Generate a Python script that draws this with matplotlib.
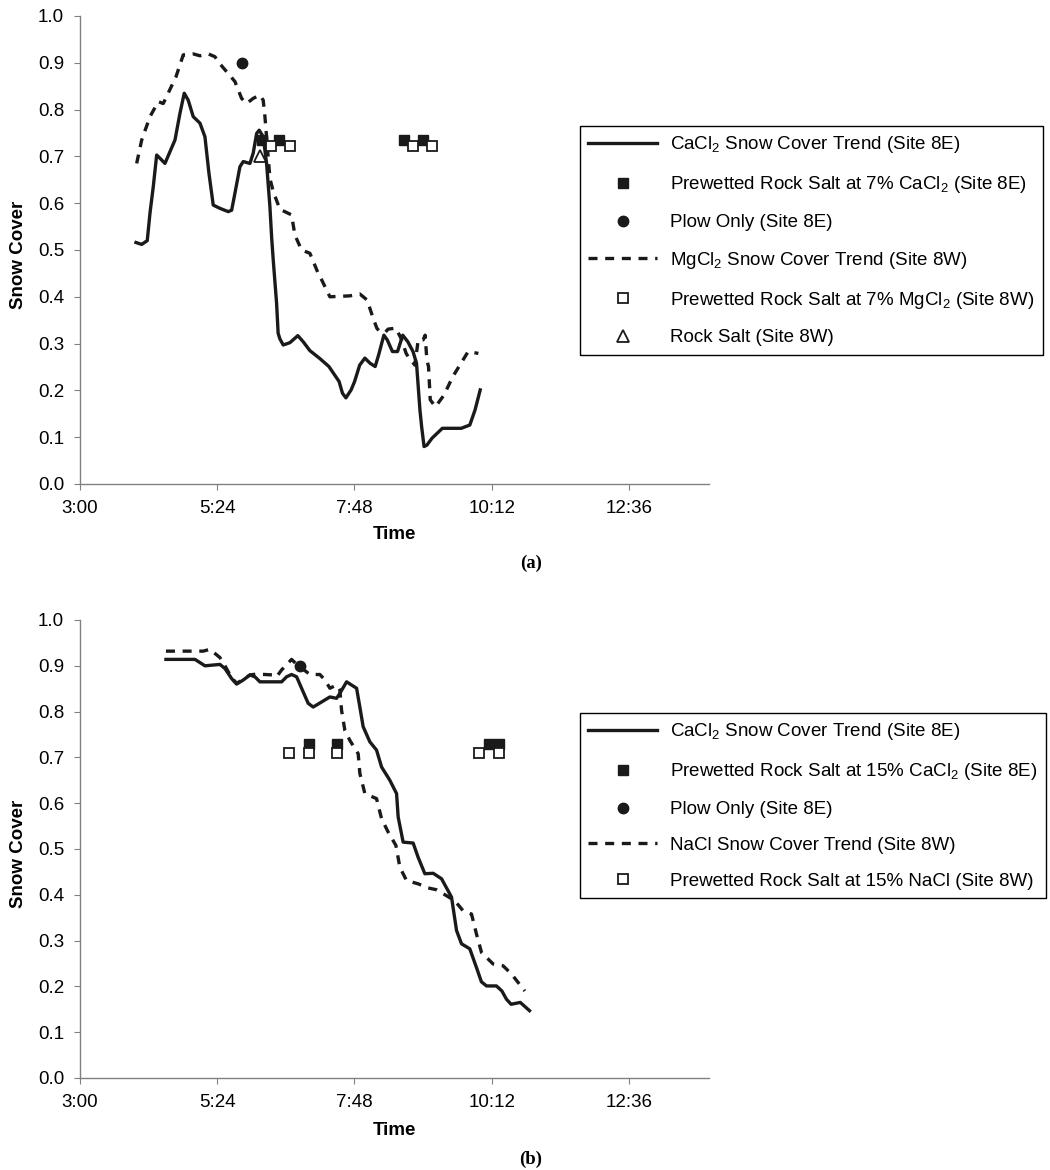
import matplotlib
matplotlib.use('Agg')
import matplotlib.pyplot as plt
from matplotlib.ticker import FuncFormatter, FixedLocator, MultipleLocator

plt.rcParams['font.family'] = ['Liberation Sans', 'DejaVu Sans']
plt.rcParams['mathtext.default'] = 'regular'

# ---------------- data (time in decimal hours) ----------------
# Panel (a)
a_cacl2_t = [3.979, 4.079, 4.176, 4.224, 4.281, 4.341, 4.398, 4.486, 4.573, 4.661, 4.748, 4.823,
             4.893, 4.980, 5.098, 5.185, 5.255, 5.330, 5.447, 5.592, 5.652, 5.709, 5.797, 5.855,
             5.972, 6.029, 6.089, 6.134, 6.204, 6.263, 6.321, 6.351, 6.379, 6.438, 6.465, 6.496,
             6.554, 6.671, 6.809, 6.903, 7.020, 7.195, 7.353, 7.531, 7.590, 7.650, 7.741, 7.802,
             7.891, 7.982, 8.073, 8.162, 8.223, 8.314, 8.373, 8.464, 8.553, 8.644, 8.733, 8.824,
             8.885, 8.945, 8.975, 9.017, 9.066, 9.157, 9.337, 9.667, 9.817, 9.908, 9.999]
a_cacl2_v = [0.516, 0.512, 0.520, 0.579, 0.635, 0.703, 0.696, 0.685, 0.710, 0.735, 0.792, 0.835,
             0.820, 0.785, 0.771, 0.742, 0.664, 0.596, 0.589, 0.582, 0.585, 0.621, 0.678, 0.689,
             0.685, 0.707, 0.749, 0.756, 0.742, 0.685, 0.593, 0.528, 0.479, 0.386, 0.322, 0.310,
             0.297, 0.302, 0.317, 0.304, 0.285, 0.268, 0.251, 0.219, 0.194, 0.184, 0.201, 0.219,
             0.254, 0.269, 0.258, 0.251, 0.276, 0.318, 0.308, 0.283, 0.283, 0.318, 0.304, 0.283,
             0.258, 0.158, 0.122, 0.080, 0.083, 0.098, 0.119, 0.119, 0.126, 0.158, 0.201]

a_mgcl2_t = [3.991, 4.079, 4.224, 4.369, 4.456, 4.526, 4.678, 4.806, 4.980, 5.098, 5.243, 5.360,
             5.417, 5.564, 5.709, 5.826, 5.914, 6.029, 6.146, 6.204, 6.234, 6.291, 6.321, 6.379,
             6.496, 6.700, 6.758, 6.875, 7.020, 7.166, 7.223, 7.370, 7.720, 7.894, 8.022, 8.127,
             8.191, 8.244, 8.344, 8.389, 8.524, 8.615, 8.704, 8.739, 8.856, 8.915, 9.001, 9.036,
             9.066, 9.095, 9.125, 9.216, 9.366, 9.517, 9.698, 9.788, 9.967]
a_mgcl2_v = [0.685, 0.735, 0.785, 0.817, 0.813, 0.831, 0.870, 0.917, 0.919, 0.915, 0.919, 0.913,
             0.902, 0.881, 0.860, 0.824, 0.813, 0.824, 0.831, 0.820, 0.785, 0.699, 0.653, 0.625,
             0.587, 0.575, 0.532, 0.500, 0.493, 0.450, 0.437, 0.400, 0.402, 0.406, 0.393, 0.354,
             0.333, 0.325, 0.325, 0.331, 0.333, 0.311, 0.279, 0.272, 0.254, 0.308, 0.308, 0.318,
             0.265, 0.251, 0.180, 0.165, 0.190, 0.229, 0.265, 0.283, 0.279]

a_prewet_cacl2_t = [6.18, 6.48, 8.67, 9.00]
a_prewet_cacl2_v = [0.735, 0.735, 0.735, 0.735]
a_plow_t = [5.83]
a_plow_v = [0.90]
a_prewet_mgcl2_t = [6.34, 6.67, 8.83, 9.15]
a_prewet_mgcl2_v = [0.722, 0.722, 0.722, 0.722]
a_rocksalt_t = [6.15]
a_rocksalt_v = [0.70]

# Panel (b)
b_cacl2_t = [4.503, 5.010, 5.185, 5.360, 5.447, 5.535, 5.652, 5.739, 5.855, 5.972, 6.059, 6.146,
             6.526, 6.613, 6.700, 6.788, 6.903, 6.991, 7.078, 7.225, 7.370, 7.487, 7.545, 7.662,
             7.837, 7.894, 7.952, 8.069, 8.186, 8.274, 8.419, 8.536, 8.564, 8.651, 8.826, 8.913,
             9.031, 9.176, 9.323, 9.497, 9.585, 9.672, 9.817, 9.934, 10.020, 10.109, 10.283,
             10.378, 10.458, 10.539, 10.700, 10.861]
b_cacl2_v = [0.914, 0.914, 0.900, 0.902, 0.903, 0.894, 0.872, 0.860, 0.869, 0.880, 0.876, 0.865,
             0.865, 0.876, 0.881, 0.876, 0.843, 0.818, 0.810, 0.821, 0.832, 0.829, 0.840, 0.865,
             0.851, 0.810, 0.767, 0.734, 0.716, 0.679, 0.650, 0.621, 0.570, 0.515, 0.513, 0.482,
             0.446, 0.447, 0.435, 0.395, 0.322, 0.293, 0.282, 0.241, 0.210, 0.201, 0.201,
             0.190, 0.172, 0.161, 0.165, 0.147]

b_nacl_t = [4.503, 5.155, 5.272, 5.447, 5.535, 5.652, 5.739, 5.855, 5.972, 6.089, 6.379, 6.438,
            6.526, 6.700, 6.775, 7.020, 7.195, 7.283, 7.370, 7.487, 7.545, 7.574, 7.632, 7.720,
            7.865, 7.894, 7.982, 8.186, 8.274, 8.389, 8.524, 8.594, 8.711, 8.913, 9.088, 9.235,
            9.410, 9.555, 9.700, 9.847, 9.934, 10.022, 10.224, 10.399, 10.546, 10.779]
b_nacl_v = [0.932, 0.932, 0.936, 0.918, 0.900, 0.874, 0.862, 0.870, 0.880, 0.882, 0.880, 0.876,
            0.891, 0.914, 0.905, 0.881, 0.881, 0.869, 0.851, 0.858, 0.847, 0.803, 0.759, 0.737,
            0.708, 0.665, 0.621, 0.610, 0.566, 0.537, 0.508, 0.460, 0.431, 0.424, 0.415, 0.411,
            0.398, 0.387, 0.365, 0.358, 0.314, 0.274, 0.249, 0.245, 0.227, 0.190]

b_prewet_cacl2_t = [7.01, 7.50, 10.15, 10.32]
b_prewet_cacl2_v = [0.73, 0.73, 0.73, 0.73]
b_plow_t = [6.85]
b_plow_v = [0.90]
b_prewet_nacl_t = [6.66, 7.01, 7.50, 9.98, 10.32]
b_prewet_nacl_v = [0.71, 0.71, 0.71, 0.71, 0.71]

x_ticks = [3.0, 5.4, 7.8, 10.2, 12.6]
x_limits = (3.0, 14.0)

labels_a = ['CaCl$_2$ Snow Cover Trend (Site 8E)',
            'Prewetted Rock Salt at 7% CaCl$_2$ (Site 8E)',
            'Plow Only (Site 8E)',
            'MgCl$_2$ Snow Cover Trend (Site 8W)',
            'Prewetted Rock Salt at 7% MgCl$_2$ (Site 8W)',
            'Rock Salt (Site 8W)']
labels_b = ['CaCl$_2$ Snow Cover Trend (Site 8E)',
            'Prewetted Rock Salt at 15% CaCl$_2$ (Site 8E)',
            'Plow Only (Site 8E)',
            'NaCl Snow Cover Trend (Site 8W)',
            'Prewetted Rock Salt at 15% NaCl (Site 8W)']

# ---------------- styling ----------------
INK = '#1a1a1a'
AXC = '#808080'
LW = 2.4
DASH = (0, (2.7, 2.3))
FS = 13.5
W, H = 1050, 1170


def hm(h, pos=None):
    m = int(round(h * 60))
    return f"{m // 60}:{m % 60:02d}"


def style(ax):
    for s in ('top', 'right'):
        ax.spines[s].set_visible(False)
    for s in ('left', 'bottom'):
        ax.spines[s].set_color(AXC)
        ax.spines[s].set_linewidth(1.0)
    ax.set_xlim(*x_limits)
    ax.set_ylim(0, 1.0)
    ax.xaxis.set_major_locator(FixedLocator(x_ticks))
    ax.xaxis.set_major_formatter(FuncFormatter(hm))
    ax.yaxis.set_major_locator(MultipleLocator(0.1))
    ax.yaxis.set_major_formatter(FuncFormatter(lambda v, p: f"{v:.1f}"))
    ax.tick_params(direction='out', length=4.5, width=0.8, color=AXC,
                   labelsize=FS, labelcolor='black', pad=7)
    ax.set_xlabel('Time', fontsize=FS, fontweight='bold')
    ax.set_ylabel('Snow Cover', fontsize=FS, fontweight='bold', va='center')


def add_legend(fig, handles, labels, top_px):
    fig.legend(handles, labels, loc='upper left',
               bbox_to_anchor=(580 / W, 1 - top_px / H), bbox_transform=fig.transFigure,
               borderaxespad=0, borderpad=0.45, labelspacing=1.0,
               handlelength=3.65, handletextpad=0.7, fontsize=FS,
               frameon=True, fancybox=False, framealpha=1, edgecolor='black',
               numpoints=1)


fig = plt.figure(figsize=(W / 100, H / 100), dpi=100)
axA = fig.add_axes([80 / W, 1 - 484 / H, 629 / W, 468 / H])
axB = fig.add_axes([80 / W, 1 - 1078 / H, 629 / W, 458 / H])

# ----- panel (a)
hA = []
hA.append(axA.plot(a_cacl2_t, a_cacl2_v, color=INK, lw=LW, ls='-')[0])
hA.append(axA.plot(a_prewet_cacl2_t, a_prewet_cacl2_v, ls='none', marker='s', ms=7.5,
                   mfc=INK, mec=INK, zorder=5)[0])
hA.append(axA.plot(a_plow_t, a_plow_v, ls='none', marker='o', ms=7.5,
                   mfc=INK, mec=INK, zorder=5)[0])
hA.append(axA.plot(a_mgcl2_t, a_mgcl2_v, color=INK, lw=LW, ls=DASH)[0])
hA.append(axA.plot(a_prewet_mgcl2_t, a_prewet_mgcl2_v, ls='none', marker='s', ms=7.5,
                   mfc='white', mec=INK, mew=1.3, zorder=5)[0])
hA.append(axA.plot(a_rocksalt_t, a_rocksalt_v, ls='none', marker='^', ms=8,
                   mfc='white', mec=INK, mew=1.3, zorder=6)[0])
style(axA)
add_legend(fig, hA, labels_a, 126)

# ----- panel (b)
hB = []
hB.append(axB.plot(b_cacl2_t, b_cacl2_v, color=INK, lw=LW, ls='-')[0])
hB.append(axB.plot(b_prewet_cacl2_t, b_prewet_cacl2_v, ls='none', marker='s', ms=7.5,
                   mfc=INK, mec=INK, zorder=5)[0])
hB.append(axB.plot(b_plow_t, b_plow_v, ls='none', marker='o', ms=7.5,
                   mfc=INK, mec=INK, zorder=5)[0])
hB.append(axB.plot(b_nacl_t, b_nacl_v, color=INK, lw=LW, ls=DASH)[0])
hB.append(axB.plot(b_prewet_nacl_t, b_prewet_nacl_v, ls='none', marker='s', ms=7.5,
                   mfc='white', mec=INK, mew=1.3, zorder=5)[0])
style(axB)
add_legend(fig, hB, labels_b, 713)

# axis label positions
axA.xaxis.set_label_coords(0.5, -(526 - 484) / 468)
axB.xaxis.set_label_coords(0.5, -(1122 - 1078) / 458)
axA.yaxis.set_label_coords(-(80 - 18.5) / 629, 0.49)
axB.yaxis.set_label_coords(-(80 - 18.5) / 629, 0.49)

fig.text(531 / W, 1 - 563 / H, '(a)', ha='center', va='center', fontsize=FS,
         fontweight='bold', family=['Liberation Serif', 'DejaVu Serif'])
fig.text(531 / W, 1 - 1159 / H, '(b)', ha='center', va='center', fontsize=FS,
         fontweight='bold', family=['Liberation Serif', 'DejaVu Serif'])

fig.savefig('out.png', dpi=100, facecolor='white')
